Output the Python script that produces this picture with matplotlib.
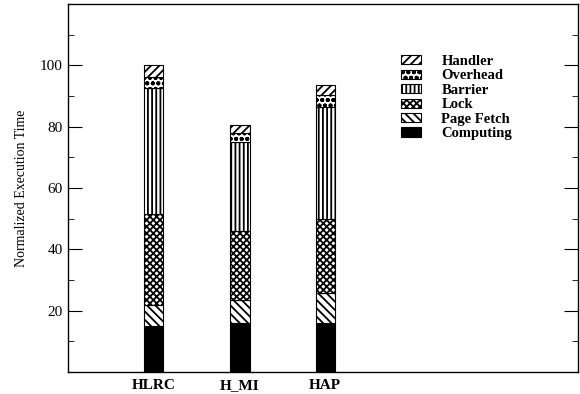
import matplotlib
matplotlib.use("Agg")
import matplotlib.pyplot as plt
import numpy as np
from matplotlib.ticker import MultipleLocator

categories = ["HLRC", "H_MI", "HAP"]
components = ["Computing", "Page Fetch", "Lock", "Barrier", "Overhead", "Handler"]
computing = [15.0, 15.8, 15.8]
page_fetch = [6.7, 7.8, 10.0]
lock = [29.8, 22.4, 24.2]
barrier = [41.0, 29.0, 36.4]
overhead = [3.7, 2.8, 3.8]
handler = [3.8, 2.7, 3.5]
series = [computing, page_fetch, lock, barrier, overhead, handler]
hatches = [None, "\\\\\\\\", "xxxxx", "||||", "ooo", "////"]
faces = ["black", "white", "white", "white", "white", "white"]

plt.rcParams["font.family"] = ["Liberation Serif", "DejaVu Serif"]
plt.rcParams["hatch.linewidth"] = 1.3

fig = plt.figure(figsize=(5.8, 3.94), dpi=100)
ax = fig.add_axes([0.117, 0.056, 0.880, 0.934])

x = np.array([154, 240, 325], dtype=float)
x = (x - 68) / 510.0
width = 19 / 510.0
bottom = np.zeros(len(categories))
handles = []
for name, vals, h, fc in zip(components, series, hatches, faces):
    b = ax.bar(x, vals, width, bottom=bottom, color=fc, edgecolor="black",
               hatch=h, linewidth=0.8, label=name)
    handles.append(b)
    bottom += np.array(vals)

ax.set_xlim(0, 1)
ax.set_ylim(0, 120)
ax.set_xticks(x)
ax.set_xticklabels(categories, fontweight="bold", fontsize=11)
ax.yaxis.set_minor_locator(MultipleLocator(10))
ax.set_yticks([20, 40, 60, 80, 100])
ax.tick_params(axis="y", which="major", direction="in", length=10, right=True, labelsize=11)
ax.tick_params(axis="y", which="minor", direction="in", length=4, right=True)
ax.tick_params(axis="x", length=0, pad=5)
ax.set_ylabel("Normalized Execution Time", fontsize=10, labelpad=9)
for s in ax.spines.values():
    s.set_linewidth(1.0)

leg = ax.legend(handles[::-1], components[::-1], loc="upper left",
                bbox_to_anchor=(0.627, 0.897), frameon=False,
                prop={"weight": "bold", "size": 10.5}, handlelength=1.37,
                handleheight=0.6, labelspacing=0.1, handletextpad=1.4)

fig.savefig("out.png", dpi=100)
